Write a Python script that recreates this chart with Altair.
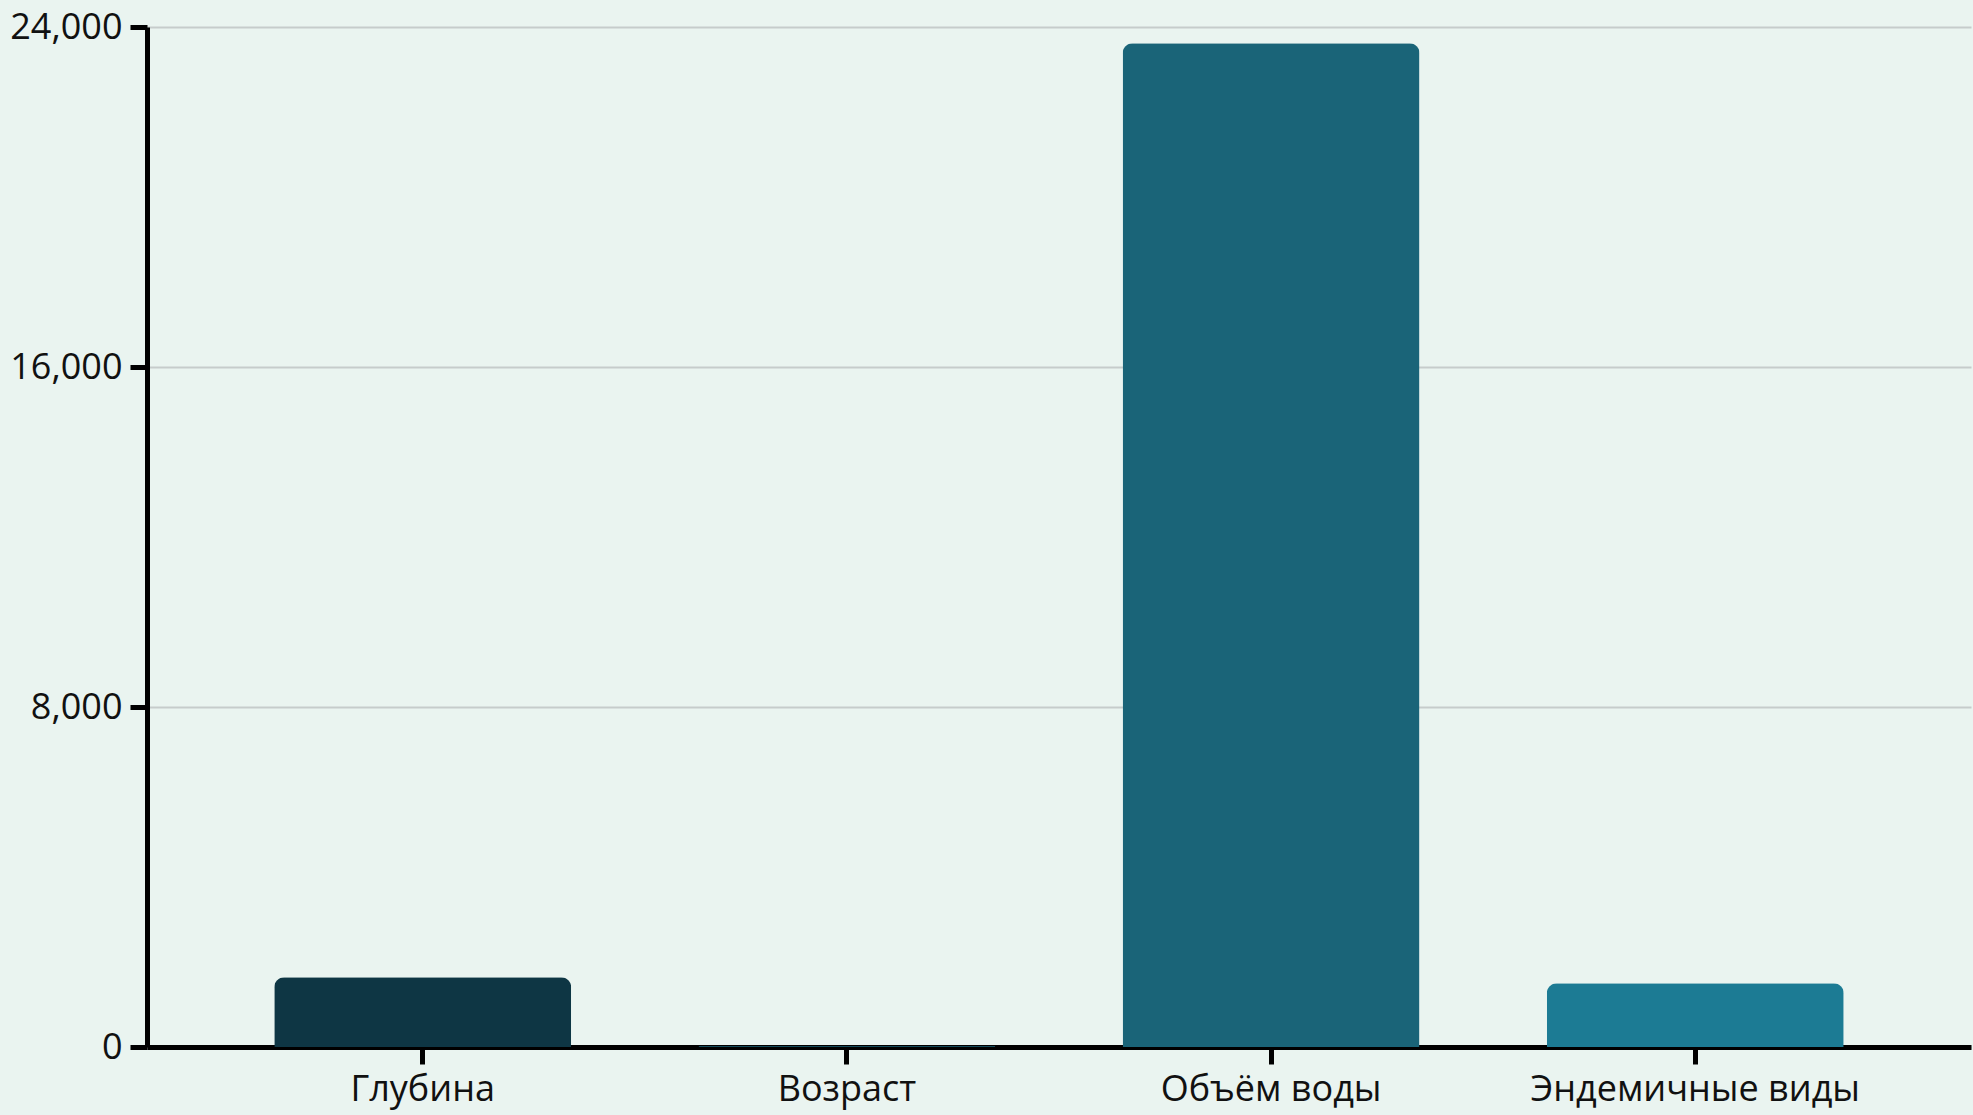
import altair as alt
import pandas as pd

categories = ["Глубина", "Возраст", "Объём воды", "Эндемичные виды"]
values = [1642, 25, 23615, 1500]
colors = ["#0e3644", "#134a5a", "#1a6478", "#1c7b94"]

df = pd.DataFrame({"category": categories, "value": values, "color": colors})

FONT = "Open Sans"

chart = alt.Chart(df).mark_bar(
    cornerRadiusTopLeft=10, cornerRadiusTopRight=10
).encode(
    x=alt.X("category:N", sort=categories, title=None,
            scale=alt.Scale(paddingInner=0.3, paddingOuter=0.3),
            axis=alt.Axis(labelAngle=0, labelFont=FONT, labelFontSize=36,
                          labelColor="#111111", labelPadding=8, labelLimit=0,
                          domainColor="#000000", domainWidth=5,
                          tickColor="#000000", tickWidth=5, tickSize=17,
                          grid=False)),
    y=alt.Y("value:Q", title=None,
            scale=alt.Scale(domain=[0, 24000], nice=False),
            axis=alt.Axis(values=[0, 8000, 16000, 24000], format=",.0f",
                          labelFont=FONT, labelFontSize=36, labelColor="#111111",
                          labelPadding=8, labelLimit=0,
                          domainColor="#000000", domainWidth=5,
                          tickColor="#000000", tickWidth=5, tickSize=17,
                          grid=True, gridColor="#c6cccb", gridWidth=2)),
    color=alt.Color("color:N", scale=None, legend=None),
).properties(
    width=1824, height=1020,
    background="#eaf4f0",
    padding={"left": 147, "top": 27, "right": 2, "bottom": 68},
    autosize=alt.AutoSizeParams(type="none"),
).configure_view(stroke=None)

chart.save("out.html", embed_options={"renderer": "svg", "actions": False})
